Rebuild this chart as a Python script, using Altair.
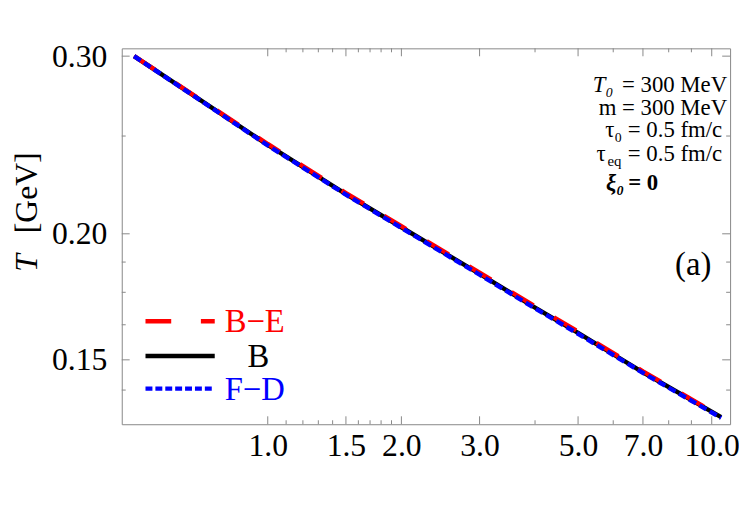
import altair as alt
import pandas as pd

# ---- data ----
tau = [0.5, 0.7, 1.0, 1.5, 2.0, 3.0, 4.0, 5.0, 7.0, 10.5]
T_BE = [0.300, 0.2723, 0.2455, 0.2195, 0.2035, 0.1830, 0.1695, 0.1600, 0.1461, 0.1318]
T_B = [0.300, 0.2720, 0.2450, 0.2190, 0.2030, 0.1825, 0.1690, 0.1595, 0.1458, 0.1316]
T_FD = [0.300, 0.2718, 0.2447, 0.2187, 0.2027, 0.1822, 0.1687, 0.1592, 0.1456, 0.1314]
series_names = ["B\u2212E", "B", "F\u2212D"]
series_colors = ["#ff0000", "#000000", "#0000ff"]

x_major = [1.0, 1.5, 2.0, 3.0, 5.0, 7.0, 10.0]
x_minor = [1.1, 1.2, 1.3, 1.4, 1.6, 1.7, 1.8, 1.9, 4.0, 6.0, 8.0, 9.0]
y_major = [0.15, 0.20, 0.30]
y_minor = [0.14, 0.1625, 0.175, 0.1875, 0.25]

W, H = 615, 380
SERIF = "Liberation Serif"
GRAY = "#888888"

xs = alt.Scale(type="log", domain=[0.469, 11.0], nice=False)
ys = alt.Scale(type="log", domain=[0.1295, 0.3054], nice=False)

rows = []
for name, vals in zip(series_names, [T_BE, T_B, T_FD]):
    for t, v in zip(tau, vals):
        rows.append({"tau": t, "T": v, "s": name})
df = pd.DataFrame(rows)

xaxis = alt.Axis(values=x_major, format=".1f", labelFont=SERIF, labelFontSize=32,
                 tickSize=0, domain=False, grid=False, labelPadding=7, title=None,
                 labelColor="black", labelFlush=False, labelOverlap=False)
yaxis = alt.Axis(values=y_major, format=".2f", labelFont=SERIF, labelFontSize=32,
                 tickSize=0, domain=False, grid=False, labelPadding=15, title=None,
                 labelColor="black", labelFlush=False, labelOverlap=False)

base = alt.Chart(df)

def line(name, color, dash):
    kw = dict(color=color, strokeWidth=4.5, clip=True)
    if dash:
        kw["strokeDash"] = dash
    return base.transform_filter(alt.datum.s == name).mark_line(**kw).encode(
        x=alt.X("tau:Q", scale=xs, axis=xaxis),
        y=alt.Y("T:Q", scale=ys, axis=yaxis),
        order="tau:Q",
    )

l_b = line("B", "#000000", None)
l_be = line("B\u2212E", "#ff0000", [26, 24])
l_fd = line("F\u2212D", "#0000ff", [8, 4])

# ---- inward ticks on all four sides ----
def xticks(vals, length):
    d = alt.Chart(pd.DataFrame({"v": vals}))
    bot = d.mark_rule(color=GRAY, strokeWidth=1).encode(
        x=alt.X("v:Q", scale=xs, axis=xaxis), y=alt.value(H), y2=alt.value(H - length))
    top = d.mark_rule(color=GRAY, strokeWidth=1).encode(
        x=alt.X("v:Q", scale=xs, axis=xaxis), y=alt.value(0), y2=alt.value(length))
    return bot + top

def yticks(vals, length):
    d = alt.Chart(pd.DataFrame({"v": vals}))
    lft = d.mark_rule(color=GRAY, strokeWidth=1).encode(
        y=alt.Y("v:Q", scale=ys, axis=yaxis), x=alt.value(0), x2=alt.value(length))
    rgt = d.mark_rule(color=GRAY, strokeWidth=1).encode(
        y=alt.Y("v:Q", scale=ys, axis=yaxis), x=alt.value(W), x2=alt.value(W - length))
    return lft + rgt

one = pd.DataFrame({"a": [0]})

def txt(s, x, y, size=23, align="left", color="black", style="normal",
        weight="normal", angle=0, baseline="alphabetic"):
    return alt.Chart(one).mark_text(
        text=s, font=SERIF, fontSize=size, align=align, baseline=baseline,
        color=color, fontStyle=style, fontWeight=weight, angle=angle,
    ).encode(x=alt.value(x), y=alt.value(y))

def seg(x1, x2, y, color, dash):
    kw = dict(color=color, strokeWidth=4.5)
    if dash:
        kw["strokeDash"] = dash
    return alt.Chart(one).mark_rule(**kw).encode(
        x=alt.value(x1), x2=alt.value(x2), y=alt.value(y))

annot = [
    txt("T\u2080", 497, 44, style="italic", align="right"),
    txt("= 300 MeV", 612, 44, align="right"),
    txt("m = 300 MeV", 612, 67, align="right"),
    txt("\u03c4\u2080", 506, 90, align="right"),
    txt("= 0.5 fm/c", 607, 90, align="right"),
    txt("\u03c4", 480, 114),
    txt("eq", 491, 119, size=15),
    txt("= 0.5 fm/c", 607, 114, align="right"),
    txt("\u03be\u2080", 508, 143, weight="bold", style="italic", align="right"),
    txt("= 0", 512, 143, weight="bold"),
    txt("(a)", 596, 229, size=33, align="right"),
]

legend = [
    seg(24, 94, 276, "#ff0000", [26, 30]),
    txt("B\u2212E", 104, 287, size=33, color="#ff0000"),
    seg(24, 94, 311, "#000000", None),
    txt("B", 138, 322, size=33, align="center"),
    seg(24, 94, 344, "#0000ff", [7, 3]),
    txt("F\u2212D", 104, 356, size=33, color="#0000ff"),
]

ytitle = [
    txt("T", -96, 217, size=32, style="italic", angle=270, align="center", baseline="middle"),
    txt("[GeV]", -96, 146, size=32, angle=270, align="center", baseline="middle"),
]

layers = [l_b, l_be, l_fd,
          xticks(x_major, 8), xticks(x_minor, 4),
          yticks(y_major, 8), yticks(y_minor, 4)] + annot + legend + ytitle

chart = alt.layer(*layers).properties(
    width=W, height=H, autosize="none",
    padding={"left": 115, "top": 38, "right": 9, "bottom": 90},
).configure_view(stroke=GRAY, strokeWidth=1)

chart.save("out.html", embed_options={"renderer": "svg", "actions": False})
